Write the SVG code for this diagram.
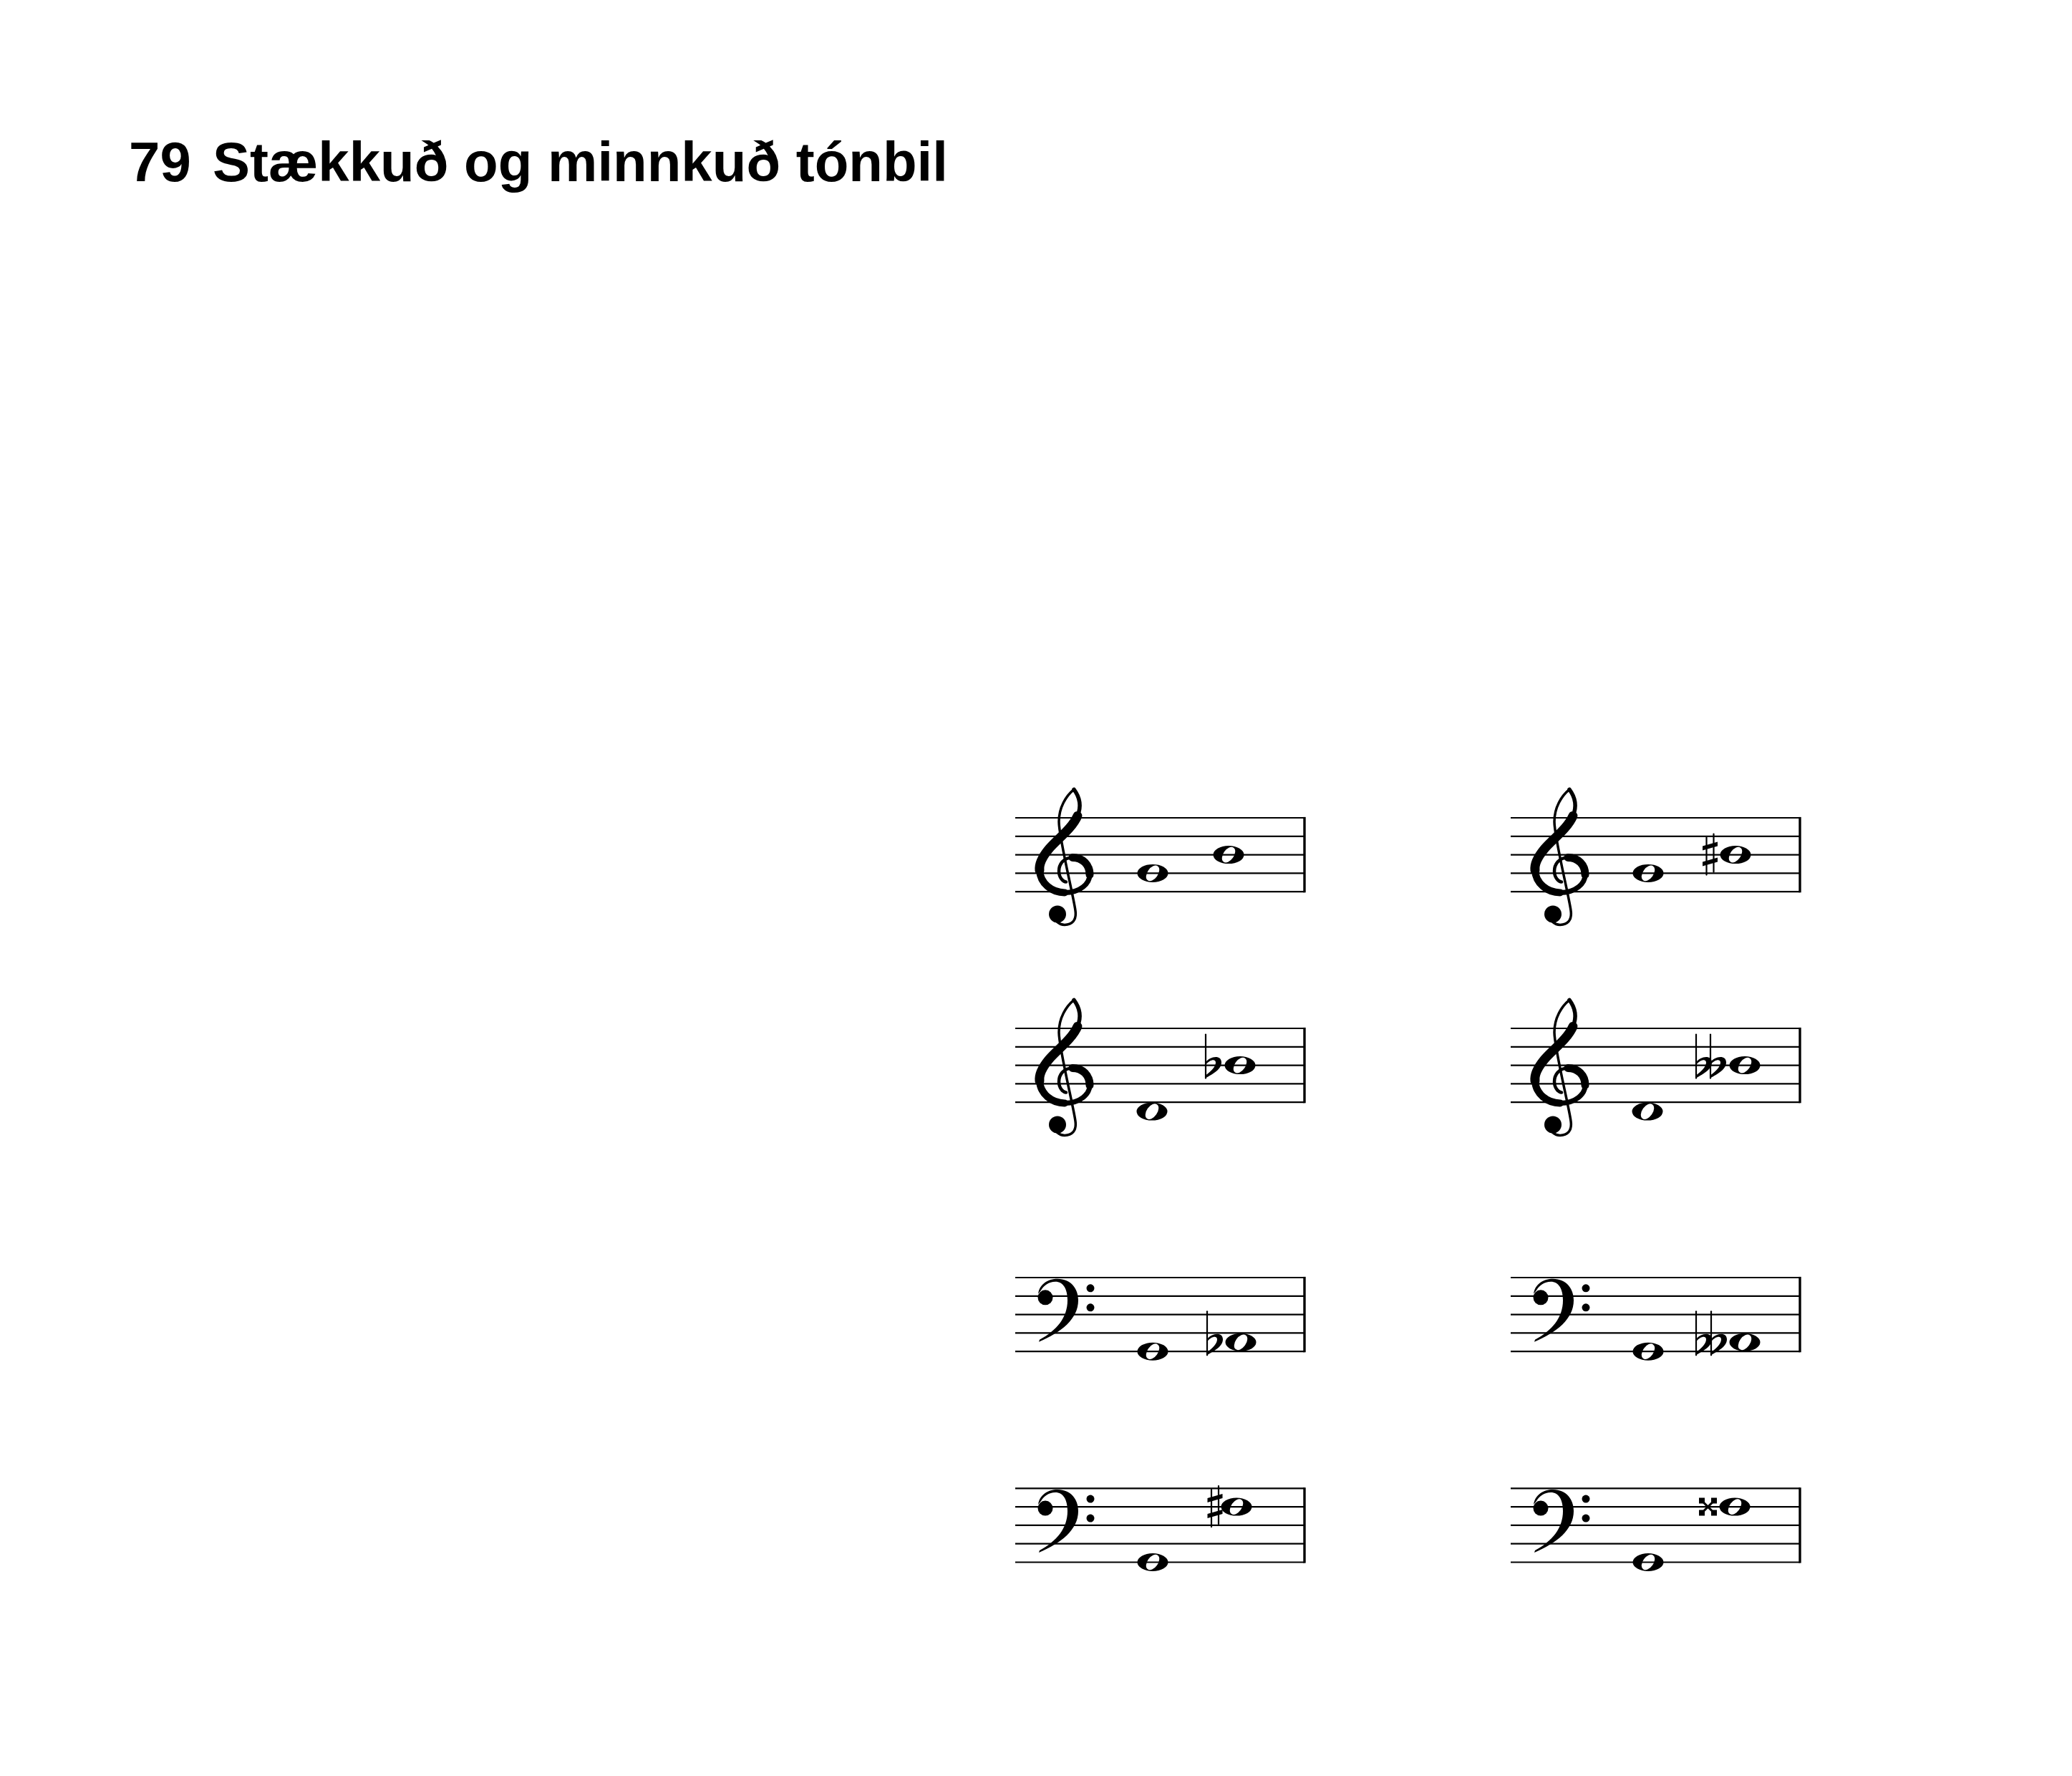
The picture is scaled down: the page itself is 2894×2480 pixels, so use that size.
<svg xmlns="http://www.w3.org/2000/svg" width="2894" height="2480" viewBox="0 0 2894 2480">
<style>
.title{font-family:"Liberation Sans",Arial,sans-serif;font-weight:bold;font-size:78px;fill:#000}
.sl{stroke:#000;stroke-width:2.2;fill:none}
.bar{stroke:#000;stroke-width:3.4;fill:none}
.ink{fill:#000}
.thin{stroke:#000;fill:none;stroke-linecap:round;stroke-linejoin:round}
</style>
<defs>
<g id="staff">
<path class="sl" d="M0 0H404M0 25.8H404M0 51.6H404M0 77.4H404M0 103.2H404"/>
<path class="bar" d="M404 -1.1V104.3"/>
</g>
<path id="whole" class="ink" fill-rule="evenodd" d="M-21.5 0A21.5 12.5 0 1 0 21.5 0A21.5 12.5 0 1 0 -21.5 0ZM6.9 -9.8A12 7 -55 1 0 -6.9 9.8A12 7 -55 1 0 6.9 -9.8Z"/>
<g id="treble">
<path class="thin" stroke-width="5.5" d="M15 -117C24 -105 25 -92 20 -80"/>
<path class="thin" stroke-width="13" d="M20 -80C12 -62 -8 -48 -20 -34C-30 -22 -34 -12 -33 -4"/>
<path class="thin" stroke-width="10" d="M-33 -4C-32 14 -16 27 2 27"/>
<path class="thin" stroke-width="7" d="M2 27C24 27 37 14 37 2"/>
<path class="thin" stroke-width="11" d="M37 2C37 -12 27 -22 13 -22"/>
<path class="thin" stroke-width="4.5" d="M13 -22C0 -22 -6 -12 -6 -3C-6 6 0 12 4 12"/>
<path class="thin" stroke-width="3.5" d="M15 -117C4 -108 -6 -92 -6 -72C-6 -50 14 30 17 52C19 66 12 72 2 72C-6 72 -12 66 -12 60"/>
<circle class="ink" cx="-8" cy="57" r="12"/>
</g>
<g id="bass">
<circle class="ink" cx="0" cy="2" r="10.5"/>
<path class="ink" d="M-10 -3C-8 -17 4 -24 17 -24C36 -24 46 -10 46 6C46 32 22 51 -9 64L-8 61C16 48 31 30 31 6C31 -10 25 -20 14 -20C5 -20 -2 -15 -6 -8Z"/>
<circle class="ink" cx="63" cy="-11" r="5.5"/>
<circle class="ink" cx="63" cy="16" r="5.5"/>
</g>
<g id="flat">
<path class="thin" stroke-width="2.2" stroke-linecap="butt" d="M0 -43V18"/>
<path class="ink" d="M0 -4C6 -13 22 -15 22 -4C22 6 10 12 0 18L0 14C8 8 14 2 14 -4C14 -9 7 -9 0 -1Z"/>
</g>
<g id="sharp">
<path class="thin" stroke-width="2.2" stroke-linecap="butt" d="M-5 -24V28M5 -29V24"/>
<path class="ink" d="M-10.5 -12L10.5 -18L10.5 -12L-10.5 -6ZM-10.5 10L10.5 4L10.5 10L-10.5 16Z"/>
</g>
<g id="dsharp">
<path class="thin" stroke-width="3" d="M-8 -8L8 8M-8 8L8 -8"/>
<path class="ink" d="M-12.5 -12.5H-4.5L-4.5 -6L-6 -4.5H-12.5ZM12.5 -12.5H4.5L4.5 -6L6 -4.5H12.5ZM-12.5 12.5H-4.5L-4.5 6L-6 4.5H-12.5ZM12.5 12.5H4.5L4.5 6L6 4.5H12.5Z"/>
</g>
</defs>
<rect width="2894" height="2480" fill="#fff"/>
<g id="title">
<text class="title" x="180" y="253">79</text>
<text class="title" x="297" y="253">Stækkuð og minnkuð tónbil</text>
</g>
<g id="staff-1-left" transform="translate(1418,1142)">
<use href="#staff"/>
<use href="#treble" x="67" y="77.4"/>
<use href="#whole" x="192" y="77.4"/>
<use href="#whole" x="298" y="51.6"/>
</g>
<g id="staff-1-right" transform="translate(2110,1142)">
<use href="#staff"/>
<use href="#treble" x="67" y="77.4"/>
<use href="#whole" x="192" y="77.4"/>
<use href="#sharp" x="278.5" y="51.6"/>
<use href="#whole" x="314" y="51.6"/>
</g>
<g id="staff-2-left" transform="translate(1418,1436)">
<use href="#staff"/>
<use href="#treble" x="67" y="77.4"/>
<use href="#whole" x="191" y="116.1"/>
<use href="#flat" x="266" y="51.6"/>
<use href="#whole" x="314" y="51.6"/>
</g>
<g id="staff-2-right" transform="translate(2110,1436)">
<use href="#staff"/>
<use href="#treble" x="67" y="77.4"/>
<use href="#whole" x="191" y="116.1"/>
<use href="#flat" x="259" y="51.6"/>
<use href="#flat" x="279" y="51.6"/>
<use href="#whole" x="327" y="51.6"/>
</g>
<g id="staff-3-left" transform="translate(1418,1784)">
<use href="#staff"/>
<use href="#bass" x="42" y="25.8"/>
<use href="#whole" x="192" y="103.2"/>
<use href="#flat" x="268" y="90.3"/>
<use href="#whole" x="315" y="90.3"/>
</g>
<g id="staff-3-right" transform="translate(2110,1784)">
<use href="#staff"/>
<use href="#bass" x="42" y="25.8"/>
<use href="#whole" x="192" y="103.2"/>
<use href="#flat" x="259" y="90.3"/>
<use href="#flat" x="280" y="90.3"/>
<use href="#whole" x="327" y="90.3"/>
</g>
<g id="staff-4-left" transform="translate(1418,2078.3)">
<use href="#staff"/>
<use href="#bass" x="42" y="25.8"/>
<use href="#whole" x="192" y="103.2"/>
<use href="#sharp" x="279" y="25.8"/>
<use href="#whole" x="309" y="25.8"/>
</g>
<g id="staff-4-right" transform="translate(2110,2078.3)">
<use href="#staff"/>
<use href="#bass" x="42" y="25.8"/>
<use href="#whole" x="192" y="103.2"/>
<use href="#dsharp" x="275.5" y="25.8"/>
<use href="#whole" x="313" y="25.8"/>
</g>
<g id="connectors"/>
</svg>
